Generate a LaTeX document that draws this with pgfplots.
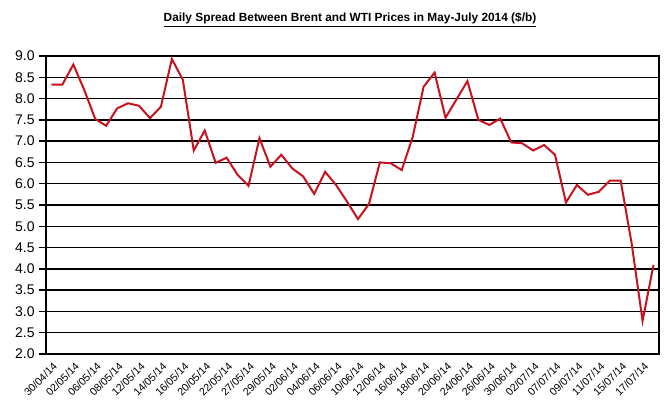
\documentclass[border=0pt]{standalone}
\usepackage{pgfplots}
\pgfplotsset{compat=1.18}
\usepackage{fontspec}
\setmainfont{Liberation Sans}
\definecolor{linered}{RGB}{200,18,30}
\begin{document}
\begin{tikzpicture}
\path[use as bounding box] (0,0) rectangle (498pt,309.75pt);
\node[font=\bfseries\fontsize{8.9}{10}\selectfont] at (262.5pt,295pt) {\underline{Daily Spread Between Brent and WTI Prices in May-July 2014 (\$/b)}};
\begin{axis}[
  at={(34.5pt,44.25pt)}, anchor=south west,
  scale only axis, width=459.75pt, height=223.5pt,
  xmin=-0.5, xmax=55.5, ymin=2, ymax=9,
  ytick={2,2.5,...,9},
  xtick={0,2,...,54},
  xticklabels={30/04/14,02/05/14,06/05/14,08/05/14,12/05/14,14/05/14,16/05/14,20/05/14,22/05/14,27/05/14,29/05/14,02/06/14,04/06/14,06/06/14,10/06/14,12/06/14,16/06/14,18/06/14,20/06/14,24/06/14,26/06/14,30/06/14,02/07/14,07/07/14,09/07/14,11/07/14,15/07/14,17/07/14},
  xticklabel style={rotate=45, anchor=north east, font=\fontsize{8}{9}\selectfont, inner sep=1pt, xshift=1pt},
  yticklabel style={font=\fontsize{10.5}{12}\selectfont},
  /pgf/number format/assume math mode=true,
  /pgf/number format/.cd, fixed, fixed zerofill, precision=1, /pgfplots/.cd,
  ymajorgrids, grid style={black, line width=1pt},
  axis line style={black, line width=1pt},
  tick align=outside, ytick pos=left, xtick pos=bottom,
  major tick length=5pt,
  ytick style={black, line width=1pt},
  xtick style={draw=none},
]
\addplot[linered, line width=1.5pt, mark=none] coordinates {
(0,8.33)(1,8.33)(2,8.80)(3,8.20)(4,7.52)(5,7.36)(6,7.77)(7,7.89)(8,7.83)(9,7.54)
(10,7.81)(11,8.93)(12,8.44)(13,6.78)(14,7.25)(15,6.49)(16,6.61)(17,6.21)(18,5.95)(19,7.07)
(20,6.40)(21,6.68)(22,6.36)(23,6.17)(24,5.76)(25,6.28)(26,5.97)(27,5.58)(28,5.17)(29,5.52)
(30,6.50)(31,6.48)(32,6.32)(33,7.10)(34,8.28)(35,8.61)(36,7.55)(37,7.98)(38,8.41)(39,7.50)
(40,7.38)(41,7.53)(42,6.97)(43,6.95)(44,6.78)(45,6.91)(46,6.68)(47,5.56)(48,5.97)(49,5.74)
(50,5.81)(51,6.07)(52,6.07)(53,4.60)(54,2.78)(55,4.09)
};
\end{axis}
\end{tikzpicture}
\end{document}
